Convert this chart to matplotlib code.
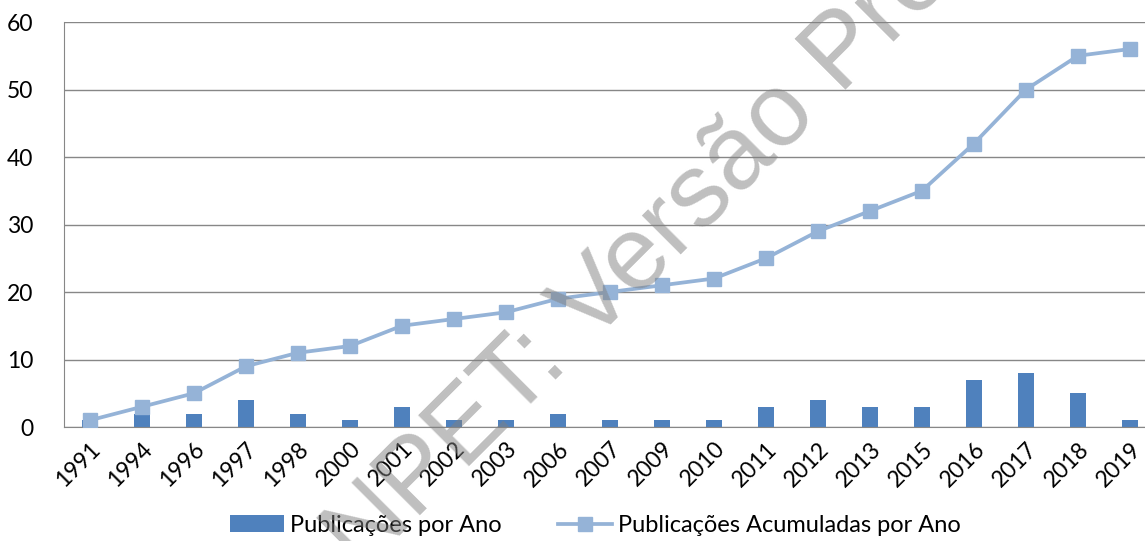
import matplotlib.pyplot as plt
import numpy as np

# data
anos = ["1991", "1994", "1996", "1997", "1998", "2000", "2001", "2002", "2003", "2006", "2007",
        "2009", "2010", "2011", "2012", "2013", "2015", "2016", "2017", "2018", "2019"]
por_ano = [1, 2, 2, 4, 2, 1, 3, 1, 1, 2, 1, 1, 1, 3, 4, 3, 3, 7, 8, 5, 1]
acumuladas = [1, 3, 5, 9, 11, 12, 15, 16, 17, 19, 20, 21, 22, 25, 29, 32, 35, 42, 50, 55, 56]

plt.rcParams['font.family'] = ['Lato', 'DejaVu Sans']

fig = plt.figure(figsize=(11.45, 5.41), dpi=100)
ax = fig.add_axes([0.0559, 0.2107, 0.9537, 0.7486])

x = np.arange(len(anos))
grid_col = '#878787'

barras = ax.bar(x, por_ano, 0.31, color='#4F81BD', label='Publicações por Ano', zorder=2)
linha, = ax.plot(x, acumuladas, color='#95B3D7', lw=2.7, marker='s', markersize=10.5,
                 label='Publicações Acumuladas por Ano', zorder=3)

ax.set_xlim(-0.5, len(anos) - 0.5)
ax.set_ylim(0, 60)
ax.set_yticks(range(0, 61, 10))
ax.yaxis.grid(True, color=grid_col, lw=1, zorder=0)
ax.set_axisbelow(True)

ax.set_xticks(x)
ax.set_xticklabels(anos, rotation=45, ha='right', rotation_mode='anchor')
ax.tick_params(axis='x', length=0, pad=8, labelsize=16.5)
ax.tick_params(axis='y', length=0, pad=22, labelsize=16.5)

for s in ['top', 'right']:
    ax.spines[s].set_visible(False)
ax.spines['left'].set_color(grid_col)
ax.spines['bottom'].set_color(grid_col)

fig.legend([barras, linha], ['Publicações por Ano', 'Publicações Acumuladas por Ano'],
           loc='lower center', bbox_to_anchor=(0.52, -0.03), ncol=2, frameon=False,
           fontsize=17, handlelength=2.3, columnspacing=2.4, handletextpad=0.25)

# marca d'agua
fig.text(312 / 1145, 1 - 623 / 541, 'ANPET: Versão Preliminar', family='Liberation Sans',
         fontsize=75, color='#808080', alpha=0.5, rotation=45, rotation_mode='anchor',
         ha='left', va='baseline', zorder=10)

fig.savefig('out.png', dpi=100)
